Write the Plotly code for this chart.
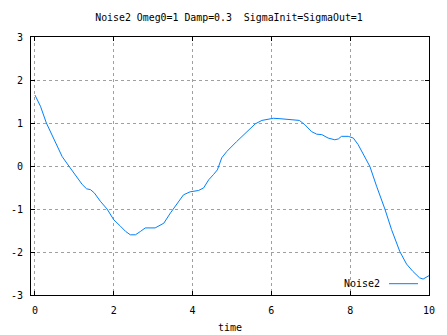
import plotly.graph_objects as go

time = [0, 0.14, 0.29, 0.52, 0.69, 0.86, 0.93, 1.03, 1.2, 1.31, 1.41, 1.51, 1.66, 1.83, 2.0,
        2.17, 2.30, 2.42, 2.55, 2.68, 2.80, 3.05, 3.27, 3.44, 3.56, 3.77, 3.94, 4.15, 4.28,
        4.41, 4.53, 4.63, 4.74, 4.87, 5.12, 5.38, 5.59, 5.76, 5.92, 6.05, 6.22, 6.43, 6.71,
        6.85, 7.02, 7.15, 7.28, 7.44, 7.61, 7.70, 7.78, 7.95, 8.08, 8.20, 8.37, 8.50, 8.67,
        8.88, 9.05, 9.26, 9.43, 9.59, 9.76, 9.85, 10.0]
noise2 = [1.65, 1.39, 1.0, 0.53, 0.22, 0.0, -0.09, -0.24, -0.43, -0.53, -0.55, -0.63, -0.82,
          -1.0, -1.25, -1.40, -1.52, -1.60, -1.60, -1.52, -1.44, -1.44, -1.33, -1.09, -0.94,
          -0.67, -0.60, -0.57, -0.51, -0.32, -0.20, -0.09, 0.19, 0.34, 0.57, 0.80, 0.98, 1.06,
          1.08, 1.11, 1.10, 1.09, 1.06, 0.96, 0.80, 0.74, 0.73, 0.65, 0.61, 0.63, 0.69, 0.69,
          0.65, 0.50, 0.22, -0.01, -0.47, -1.0, -1.48, -1.99, -2.28, -2.45, -2.60, -2.63, -2.55]

x_ticks = [0, 2, 4, 6, 8, 10]
y_ticks = [-3, -2, -1, 0, 1, 2, 3]
series_name = "Noise2"
title_text = "Noise2 Omeg0=1 Damp=0.3  SigmaInit=SigmaOut=1"

FONT = "DejaVu Sans Mono"
LINE_COLOR = "#0080ff"

# page body has an 8px margin; figure is sized to fill the rest of the window
W, H = 439, 327
L, R, T, B = 23, 18, 29, 40
PW, PH = W - L - R, H - T - B

fig = go.Figure()
fig.add_trace(go.Scatter(x=time, y=noise2, mode="lines", name=series_name,
                         line=dict(color=LINE_COLOR, width=1), showlegend=False))

axis_common = dict(showline=True, linecolor="black", linewidth=1, mirror="allticks",
                   ticks="inside", ticklen=4, tickcolor="black",
                   showgrid=True, gridcolor="#a0a0a0", griddash="dot", gridwidth=1,
                   zeroline=False, tickfont=dict(family=FONT, size=10, color="black"))

fig.update_layout(
    width=W, height=H,
    margin=dict(l=L, r=R, t=T, b=B, autoexpand=False),
    paper_bgcolor="white", plot_bgcolor="white",
    font=dict(family=FONT, size=10, color="black"),
    title=dict(text=title_text, x=221 / W, xanchor="center", y=1 - 10 / H, yanchor="middle",
               font=dict(family=FONT, size=9.9, color="black")),
    xaxis=dict(range=[-0.1, 10], tickvals=x_ticks, ticktext=[str(v) for v in x_ticks],
               ticklabelstandoff=6,
               title=dict(text="time", font=dict(family=FONT, size=10), standoff=8),
               **axis_common),
    yaxis=dict(range=[-3, 3], tickvals=y_ticks, ticktext=[str(v) for v in y_ticks],
               ticklabelstandoff=5,
               **axis_common),
)

# gnuplot-style key: text then line sample, at bottom right
key_y = (295.3 - 284) / PH
fig.add_annotation(xref="paper", yref="paper", x=(382 - 31) / PW, y=key_y,
                   text=series_name, showarrow=False, xanchor="right", yanchor="middle",
                   font=dict(family=FONT, size=10, color="black"))
fig.add_shape(type="line", xref="paper", yref="paper",
              x0=(389 - 31) / PW, x1=(418 - 31) / PW, y0=key_y, y1=key_y,
              line=dict(color=LINE_COLOR, width=1))

fig.write_html("out.html")
